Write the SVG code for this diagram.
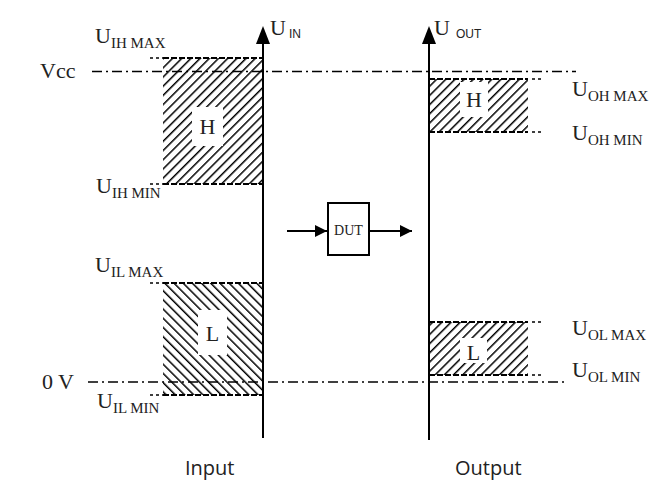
<svg xmlns="http://www.w3.org/2000/svg" width="668" height="481" viewBox="0 0 668 481">
<style>
.ax{stroke:#000;stroke-width:2;fill:none}
.dd{stroke:#000;stroke-width:1.5;fill:none;stroke-dasharray:10 4 2 4}
.sd{stroke:#000;stroke-width:1.5;fill:none;stroke-dasharray:3 3}
.edge{stroke:#000;stroke-width:2;fill:none;stroke-dasharray:6 2}
.big{font-family:"Liberation Serif",serif;font-size:22px;fill:#222}
.sub{font-family:"Liberation Serif",serif;font-size:15px;fill:#222}
.ssub{font-family:"Liberation Sans",sans-serif;font-size:12px;fill:#222}
.lbl{font-family:"Liberation Serif",serif;font-size:22px;fill:#222}
.cap{font-family:"Open Sans","Liberation Sans",sans-serif;font-size:20px;fill:#222}
.wb{fill:#fff}
</style>
<defs>
<pattern id="hf" patternUnits="userSpaceOnUse" width="6.5" height="6.5" patternTransform="rotate(45)">
<rect width="6.5" height="6.5" fill="#fff"/>
<line x1="0" y1="0" x2="0" y2="6.5" stroke="#000" stroke-width="3"/>
</pattern>
<pattern id="hb" patternUnits="userSpaceOnUse" width="6.5" height="6.5" patternTransform="rotate(-45)">
<rect width="6.5" height="6.5" fill="#fff"/>
<line x1="0" y1="0" x2="0" y2="6.5" stroke="#000" stroke-width="3"/>
</pattern>
<marker id="ah" viewBox="0 0 10 10" refX="10" refY="5" markerWidth="6" markerHeight="6" orient="auto" markerUnits="strokeWidth">
<path d="M0,0 L10,5 L0,10 z" fill="#000"/>
</marker>
</defs>

<g id="input-high">
<rect x="163" y="58" width="100" height="126" fill="url(#hf)"/>
<line class="edge" x1="163" y1="58" x2="263" y2="58"/>
<line class="edge" x1="163" y1="184" x2="263" y2="184"/>
<rect class="wb" x="192" y="107" width="31" height="39"/>
<text class="lbl" x="207.5" y="134" text-anchor="middle">H</text>
</g>

<g id="input-low">
<rect x="163" y="283" width="100" height="112" fill="url(#hb)"/>
<line class="edge" x1="163" y1="283" x2="263" y2="283"/>
<line class="edge" x1="163" y1="395" x2="263" y2="395"/>
<rect class="wb" x="198" y="310" width="29" height="45"/>
<text class="lbl" x="212.5" y="341" text-anchor="middle">L</text>
</g>

<g id="output-high">
<rect x="429" y="79" width="99" height="53" fill="url(#hf)"/>
<line class="edge" x1="429" y1="79" x2="528" y2="79"/>
<line class="edge" x1="429" y1="132" x2="528" y2="132"/>
<rect class="wb" x="460" y="82" width="28" height="35"/>
<text class="lbl" x="474" y="107" text-anchor="middle">H</text>
</g>

<g id="output-low">
<rect x="429" y="322" width="99" height="53" fill="url(#hf)"/>
<line class="edge" x1="429" y1="322" x2="528" y2="322"/>
<line class="edge" x1="429" y1="375" x2="528" y2="375"/>
<rect class="wb" x="460" y="338" width="27" height="25"/>
<text class="lbl" x="473.5" y="360" text-anchor="middle">L</text>
</g>

<g id="levels">
<line class="dd" x1="92" y1="71.5" x2="576" y2="71.5"/>
<line class="dd" x1="88" y1="382" x2="567" y2="382"/>
<line class="sd" x1="150" y1="58" x2="163" y2="58"/>
<line class="sd" x1="150" y1="184" x2="163" y2="184"/>
<line class="sd" x1="150" y1="283" x2="163" y2="283"/>
<line class="sd" x1="150" y1="395" x2="163" y2="395"/>
<line class="sd" x1="532" y1="79" x2="541" y2="79"/>
<line class="sd" x1="532" y1="132" x2="541" y2="132"/>
<line class="sd" x1="532" y1="322" x2="541" y2="322"/>
<line class="sd" x1="532" y1="375" x2="541" y2="375"/>
</g>

<g id="axes">
<line class="ax" x1="263" y1="438" x2="263" y2="40"/>
<path d="M263,26 L256,44 L270,44 z" fill="#000"/>
<line class="ax" x1="429" y1="440" x2="429" y2="40"/>
<path d="M429,26 L422,44 L436,44 z" fill="#000"/>
</g>

<g id="dut">
<rect x="328" y="203" width="41" height="52" fill="#fff" stroke="#000" stroke-width="2"/>
<text x="348.5" y="235" text-anchor="middle" style="font-family:'Liberation Serif',serif;font-size:14px;fill:#222">DUT</text>
</g>

<g id="connectors">
<line x1="287" y1="231" x2="327" y2="231" stroke="#000" stroke-width="2" marker-end="url(#ah)"/>
<line x1="369" y1="231" x2="412" y2="231" stroke="#000" stroke-width="2" marker-end="url(#ah)"/>
</g>

<g id="labels">
<text class="big" x="95" y="43">U<tspan class="sub" dy="5">IH MAX</tspan></text>
<text class="lbl" x="40" y="78">Vcc</text>
<text class="big" x="96" y="193">U<tspan class="sub" dy="5">IH MIN</tspan></text>
<text class="big" x="95" y="272">U<tspan class="sub" dy="5">IL MAX</tspan></text>
<text class="lbl" x="42" y="389">0 V</text>
<text class="big" x="97" y="408">U<tspan class="sub" dy="5">IL MIN</tspan></text>
<text class="big" x="270" y="35">U<tspan class="ssub" dx="3" dy="3">IN</tspan></text>
<text class="big" x="434" y="35">U<tspan class="ssub" dx="6" dy="3">OUT</tspan></text>
<text class="big" x="572" y="96">U<tspan class="sub" dy="5">OH MAX</tspan></text>
<text class="big" x="572" y="140">U<tspan class="sub" dy="5">OH MIN</tspan></text>
<text class="big" x="572" y="335">U<tspan class="sub" dy="5">OL MAX</tspan></text>
<text class="big" x="572" y="377">U<tspan class="sub" dy="5">OL MIN</tspan></text>
<text class="cap" x="185" y="475">Input</text>
<text class="cap" x="455" y="475">Output</text>
</g>
</svg>
